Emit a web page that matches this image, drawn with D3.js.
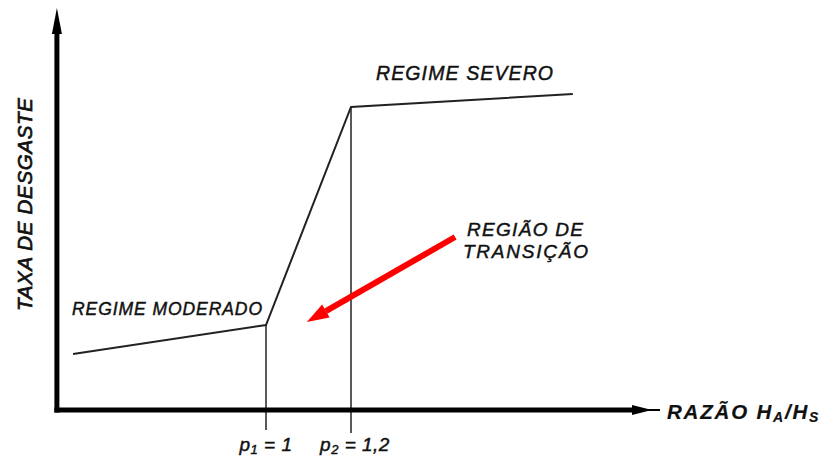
<!DOCTYPE html>
<html>
<head>
<meta charset="utf-8">
<script src="https://cdn.jsdelivr.net/npm/d3@7"></script>
<style>
  body { margin: 0; background: #fff; }
  text { font-family: "Liberation Sans", Arial, sans-serif; font-style: italic; fill: #111; stroke: #111; stroke-width: 0.45; }
</style>
</head>
<body>
<svg id="chart" width="820" height="459"></svg>
<script>
// wear rate vs hardness ratio (schematic)
var curveRatio = [0.546, 1.0, 1.2, 1.722];
var curveRate  = [14, 21.25, 75.75, 79];

var thresholds = ["p1", "p2"];
var thresholdRatio = [1.0, 1.2];
var thresholdSub = ["1", "2"];
var thresholdValue = ["1", "1,2"];
var thresholdBottom = [-5, -5.75];

var arrowFrom = [1.445, 43.25];
var arrowTo = [1.096, 22];

var svg = d3.select("#chart");

var x = d3.scaleLinear().domain([1, 1.2]).range([266, 351]);
var y = d3.scaleLinear().domain([0, 100]).range([410, 10]);

var x0 = x(0.508), xEnd = x(1.927);
var y0 = y(0), yTop = y(100.5);

// axes
svg.append("line")
  .attr("x1", x0).attr("y1", y0 + 2.5)
  .attr("x2", x0).attr("y2", yTop + 25)
  .attr("stroke", "#000").attr("stroke-width", 5);
svg.append("path")
  .attr("d", "M" + x0 + "," + yTop + "L" + (x0 - 5) + "," + (yTop + 26) + "L" + (x0 + 5) + "," + (yTop + 26) + "Z")
  .attr("fill", "#000");

svg.append("line")
  .attr("x1", x0 - 2.5).attr("y1", y0)
  .attr("x2", xEnd - 27).attr("y2", y0)
  .attr("stroke", "#000").attr("stroke-width", 5);
svg.append("path")
  .attr("d", "M" + (xEnd - 28) + "," + (y0 - 5) + "L" + (xEnd - 8) + "," + y0 + "L" + (xEnd - 28) + "," + (y0 + 5) + "Z")
  .attr("fill", "#000");
svg.append("line")
  .attr("x1", xEnd - 12).attr("y1", y0)
  .attr("x2", xEnd).attr("y2", y0)
  .attr("stroke", "#000").attr("stroke-width", 2);

// threshold drop lines
svg.selectAll(".drop")
  .data(thresholds)
  .enter().append("line")
  .attr("class", "drop")
  .attr("x1", function(d, i) { return x(thresholdRatio[i]); })
  .attr("x2", function(d, i) { return x(thresholdRatio[i]); })
  .attr("y1", function(d, i) { return y(curveRate[i + 1]); })
  .attr("y2", function(d, i) { return y(thresholdBottom[i]); })
  .attr("stroke", "#000").attr("stroke-width", 1.3);

// curve
var line = d3.line()
  .x(function(d) { return x(d[0]); })
  .y(function(d) { return y(d[1]); });

svg.append("path")
  .datum(d3.zip(curveRatio, curveRate))
  .attr("d", line)
  .attr("fill", "none")
  .attr("stroke", "#222")
  .attr("stroke-width", 2)
  .attr("stroke-linejoin", "miter");

// red arrow
var ax1 = x(arrowFrom[0]), ay1 = y(arrowFrom[1]);
var ax2 = x(arrowTo[0]), ay2 = y(arrowTo[1]);
var ang = Math.atan2(ay2 - ay1, ax2 - ax1);
var headLen = 22, headW = 7.5;
var bx = ax2 - headLen * Math.cos(ang), by = ay2 - headLen * Math.sin(ang);
svg.append("line")
  .attr("x1", ax1).attr("y1", ay1)
  .attr("x2", bx).attr("y2", by)
  .attr("stroke", "#f00").attr("stroke-width", 6);
svg.append("path")
  .attr("d", "M" + ax2 + "," + ay2 +
    "L" + (bx + headW * Math.sin(ang)) + "," + (by - headW * Math.cos(ang)) +
    "L" + (bx - headW * Math.sin(ang)) + "," + (by + headW * Math.cos(ang)) + "Z")
  .attr("fill", "#f00");

// labels
svg.append("text")
  .attr("x", 72).attr("y", 315)
  .attr("font-size", 17.5)
  .attr("textLength", 190).attr("lengthAdjust", "spacing")
  .text("REGIME MODERADO");

svg.append("text")
  .attr("x", 376).attr("y", 80)
  .attr("font-size", 19.5)
  .attr("textLength", 177).attr("lengthAdjust", "spacing")
  .text("REGIME SEVERO");

svg.append("text")
  .attr("x", 467).attr("y", 236)
  .attr("font-size", 19)
  .attr("textLength", 116).attr("lengthAdjust", "spacing")
  .text("REGIÃO DE");

svg.append("text")
  .attr("x", 463).attr("y", 258)
  .attr("font-size", 19)
  .attr("textLength", 125).attr("lengthAdjust", "spacing")
  .text("TRANSIÇÃO");

// threshold labels
var pl = svg.selectAll(".plab")
  .data(thresholds)
  .enter().append("text")
  .attr("class", "plab")
  .attr("x", function(d, i) { return x(thresholdRatio[i]) + (i ? 4 : 0); })
  .attr("y", 451)
  .attr("font-size", 19)
  .attr("letter-spacing", 0.5)
  .attr("text-anchor", "middle");
pl.append("tspan").text("p");
pl.append("tspan").attr("font-size", 13).attr("dy", 3).text(function(d, i) { return thresholdSub[i]; });
pl.append("tspan").attr("dy", -3).text(function(d, i) { return " = " + thresholdValue[i]; });

// axis titles
var xt = svg.append("text")
  .attr("x", 667).attr("y", 419)
  .attr("font-size", 20.5)
  .attr("font-weight", "bold")
  .attr("letter-spacing", 1.8)
  .style("stroke-width", 0.2);
xt.append("tspan").text("RAZÃO H");
xt.append("tspan").attr("font-size", 14).attr("dy", 3).text("A");
xt.append("tspan").attr("dy", -3).text("/H");
xt.append("tspan").attr("font-size", 14).attr("dy", 3).text("S");

svg.append("text")
  .attr("transform", "translate(32,311) rotate(-90)")
  .attr("font-size", 20.5)
  .attr("textLength", 213).attr("lengthAdjust", "spacing")
  .style("stroke-width", 0.7)
  .text("TAXA DE DESGASTE");
</script>
</body>
</html>
